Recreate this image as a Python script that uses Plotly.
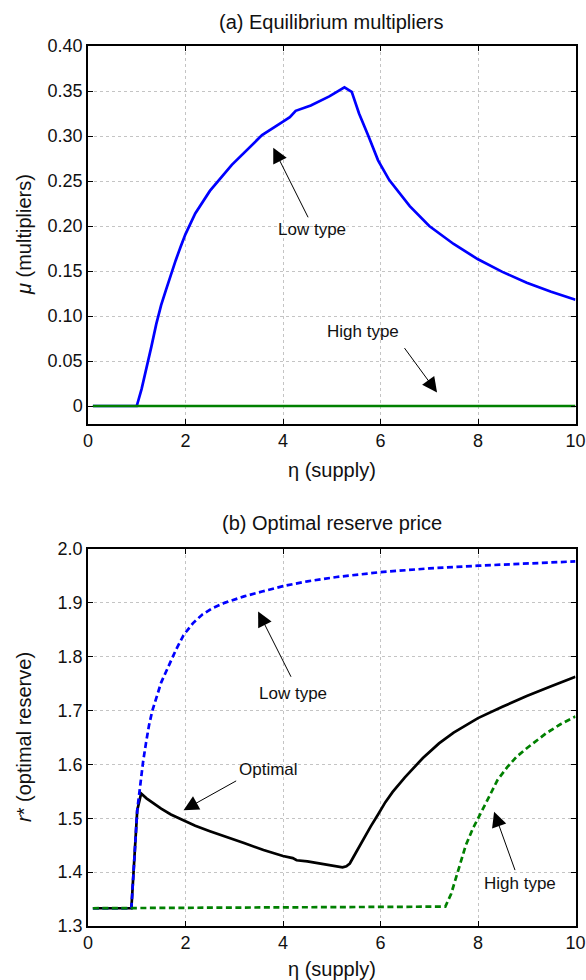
import plotly.graph_objects as go

# ---------------- data: panel (a) ----------------
eta_mu_low = [0.1, 1.0, 1.1, 1.2, 1.3, 1.4, 1.5, 1.6, 1.7, 1.8, 1.9, 2.0, 2.2, 2.5, 2.95, 3.3,
              3.57, 4.0, 4.14, 4.26, 4.57, 4.95, 5.26, 5.41, 5.56, 5.76, 5.95, 6.18, 6.6, 7.0,
              7.5, 8.0, 8.5, 9.0, 9.5, 10.0]
mu_low = [0.0, 0.0, 0.019, 0.041, 0.066, 0.091, 0.112, 0.129, 0.146, 0.162, 0.177, 0.191, 0.214,
          0.239, 0.268, 0.287, 0.301, 0.316, 0.321, 0.328, 0.334, 0.344, 0.354, 0.349, 0.325,
          0.299, 0.273, 0.251, 0.222, 0.200, 0.180, 0.163, 0.149, 0.137, 0.127, 0.118]
eta_mu_high = [0.1, 10.0]
mu_high = [0.0, 0.0]

# ---------------- data: panel (b) ----------------
eta_r_opt = [0.1, 0.89, 1.01, 1.09, 1.2, 1.35, 1.5, 1.7, 1.88, 2.2, 2.5, 2.8, 3.2, 3.6, 4.0, 4.2,
             4.28, 4.5, 4.72, 5.0, 5.22, 5.3, 5.37, 5.5, 5.64, 5.8, 5.95, 6.1, 6.25, 6.5, 6.87,
             7.2, 7.5, 8.0, 8.5, 9.0, 9.5, 10.0]
r_opt = [1.333, 1.333, 1.515, 1.546, 1.537, 1.527, 1.518, 1.507, 1.499, 1.486, 1.476, 1.466,
         1.454, 1.441, 1.430, 1.426, 1.422, 1.420, 1.417, 1.413, 1.409, 1.411, 1.416, 1.437,
         1.460, 1.485, 1.507, 1.530, 1.549, 1.576, 1.612, 1.639, 1.659, 1.686, 1.707, 1.727,
         1.745, 1.763]

eta_r_low = [0.1, 0.89, 1.01, 1.07, 1.13, 1.19, 1.25, 1.32, 1.4, 1.5, 1.65, 1.8, 1.96, 2.15,
             2.34, 2.55, 2.8, 3.2, 3.57, 4.0, 4.5, 5.1, 6.0, 7.0, 8.0, 9.0, 10.0]
r_low = [1.333, 1.333, 1.515, 1.565, 1.605, 1.640, 1.672, 1.700, 1.725, 1.752, 1.782, 1.812,
         1.840, 1.862, 1.878, 1.890, 1.900, 1.912, 1.921, 1.931, 1.940, 1.948, 1.957, 1.964,
         1.969, 1.973, 1.977]

eta_r_high = [0.1, 7.33, 7.45, 7.6, 7.75, 7.9, 8.06, 8.2, 8.4, 8.6, 8.79, 9.0, 9.4, 9.7, 10.0]
r_high = [1.333, 1.336, 1.360, 1.405, 1.450, 1.482, 1.509, 1.535, 1.571, 1.595, 1.614, 1.630,
          1.658, 1.675, 1.689]

x_ticks = [0, 2, 4, 6, 8, 10]
mu_ticks = [0, 0.05, 0.10, 0.15, 0.20, 0.25, 0.30, 0.35, 0.40]
mu_ticktext = ["0", "0.05", "0.10", "0.15", "0.20", "0.25", "0.30", "0.35", "0.40"]
r_ticks = [1.3, 1.4, 1.5, 1.6, 1.7, 1.8, 1.9, 2.0]
r_ticktext = ["1.3", "1.4", "1.5", "1.6", "1.7", "1.8", "1.9", "2.0"]

BLUE = "#0000ff"
GREEN = "#008000"
FONT = "Liberation Sans, Arial, sans-serif"

fig = go.Figure()
fig.add_trace(go.Scatter(x=eta_mu_low, y=mu_low, mode="lines", line=dict(color=BLUE, width=2.7),
                         xaxis="x", yaxis="y", showlegend=False))
fig.add_trace(go.Scatter(x=eta_mu_high, y=mu_high, mode="lines", line=dict(color=GREEN, width=2.5),
                         xaxis="x", yaxis="y", showlegend=False))

fig.add_trace(go.Scatter(x=eta_r_opt, y=r_opt, mode="lines", line=dict(color="black", width=2.7),
                         xaxis="x2", yaxis="y2", showlegend=False))
fig.add_trace(go.Scatter(x=eta_r_low, y=r_low, mode="lines",
                         line=dict(color=BLUE, width=2.7, dash="6px,3.5px"),
                         xaxis="x2", yaxis="y2", showlegend=False))
fig.add_trace(go.Scatter(x=eta_r_high, y=r_high, mode="lines",
                         line=dict(color=GREEN, width=2.7, dash="6px,3.5px"),
                         xaxis="x2", yaxis="y2", showlegend=False))

W, H = 586, 980
xdom = [88 / W, 575.5 / W]
ydom_top = [1 - 424 / H, 1 - 46 / H]
ydom_bot = [1 - 926 / H, 1 - 549 / H]

axis_common = dict(showline=True, linecolor="black", linewidth=1.5, mirror="ticks",
                   ticks="inside", ticklen=5, tickwidth=1.3, tickcolor="black",
                   showgrid=True, gridcolor="#c4c4c4", griddash="dot", gridwidth=1,
                   zeroline=False, automargin=False, ticklabeloverflow="allow",
                   tickfont=dict(family=FONT, size=18, color="#111111"))

fig.update_layout(
    template="none",
    width=W, height=H,
    margin=dict(l=0, r=0, t=0, b=0, pad=0),
    paper_bgcolor="white", plot_bgcolor="white",
    font=dict(family=FONT, color="#111111"),
    xaxis=dict(domain=xdom, range=[0, 10], tickvals=x_ticks, anchor="y", **axis_common),
    yaxis=dict(domain=ydom_top, range=[-0.02, 0.40], tickvals=mu_ticks, ticktext=mu_ticktext,
               anchor="x", **axis_common),
    xaxis2=dict(domain=xdom, range=[0, 10], tickvals=x_ticks, anchor="y2", **axis_common),
    yaxis2=dict(domain=ydom_bot, range=[1.3, 2.0], tickvals=r_ticks, ticktext=r_ticktext,
                anchor="x2", **axis_common),
)

ann = []
xc = (xdom[0] + xdom[1]) / 2
# titles
ann.append(dict(text="(a) Equilibrium multipliers", xref="paper", yref="paper", x=xc, y=1 - 22 / H,
                showarrow=False, font=dict(size=20), xanchor="center", yanchor="middle"))
ann.append(dict(text="(b) Optimal reserve price", xref="paper", yref="paper", x=xc, y=1 - 523 / H,
                showarrow=False, font=dict(size=20), xanchor="center", yanchor="middle"))
# axis titles
ann.append(dict(text="η (supply)", xref="paper", yref="paper", x=xc, y=1 - 470 / H,
                showarrow=False, font=dict(size=20), xanchor="center", yanchor="middle"))
ann.append(dict(text="η (supply)", xref="paper", yref="paper", x=xc, y=1 - 969 / H,
                showarrow=False, font=dict(size=20), xanchor="center", yanchor="middle"))
ann.append(dict(text="<i>μ</i> (multipliers)", xref="paper", yref="paper", x=24 / W, y=1 - 235 / H,
                showarrow=False, font=dict(size=20), textangle=-90, xanchor="center", yanchor="middle"))
ann.append(dict(text="<i>r</i>* (optimal reserve)", xref="paper", yref="paper", x=24 / W,
                y=1 - 737 / H, showarrow=False, font=dict(size=20), textangle=-90,
                xanchor="center", yanchor="middle"))


def label(text, x, y, xr, yr):
    ann.append(dict(text=text, x=x, y=y, xref=xr, yref=yr, showarrow=False,
                    font=dict(size=17), xanchor="center", yanchor="middle"))


def arrow(x0, y0, x1, y1, xr, yr):
    ann.append(dict(text="", x=x1, y=y1, ax=x0, ay=y0, xref=xr, yref=yr, axref=xr, ayref=yr,
                    showarrow=True, arrowhead=2, arrowsize=3, arrowwidth=1, arrowcolor="black",
                    standoff=0, startstandoff=0))


# panel (a)
label("Low type", 4.59, 0.196, "x", "y")
arrow(4.53, 0.208, 3.80, 0.287, "x", "y")
label("High type", 5.64, 0.083, "x", "y")
arrow(6.47, 0.066, 7.16, 0.015, "x", "y")
# panel (b)
label("Low type", 4.21, 1.732, "x2", "y2")
arrow(4.18, 1.760, 3.49, 1.884, "x2", "y2")
label("Optimal", 3.71, 1.591, "x2", "y2")
arrow(3.07, 1.571, 1.96, 1.515, "x2", "y2")
label("High type", 8.86, 1.379, "x2", "y2")
arrow(8.77, 1.401, 8.33, 1.512, "x2", "y2")

fig.update_layout(annotations=ann)
fig.write_html("out.html", config={"displayModeBar": False},
               post_script="document.body.style.margin='0';document.body.style.overflow='hidden';")
